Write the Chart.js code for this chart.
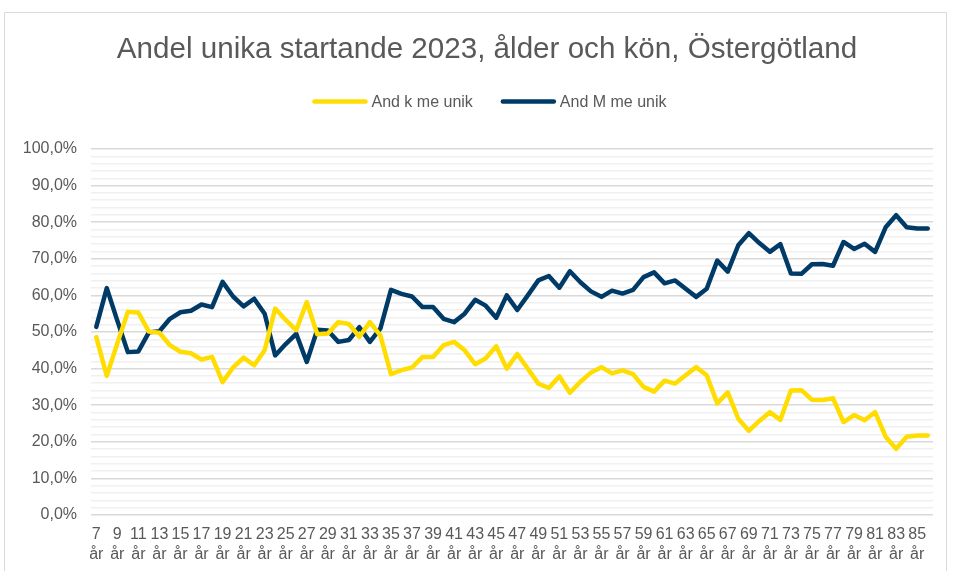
<!DOCTYPE html>
<html>
<head>
<meta charset="utf-8">
<script src="https://cdn.jsdelivr.net/npm/chart.js@4.4.1/dist/chart.umd.min.js"></script>
<style>
  html, body { margin: 0; padding: 0; background: #ffffff; }
  #wrap { position: relative; width: 955px; height: 571px; }
  canvas { display: block; }
</style>
</head>
<body>
<div id="wrap"><canvas id="c" width="955" height="571"></canvas></div>
<script>
const chartTitle = "Andel unika startande 2023, ålder och kön, Östergötland";

const categories = [
  "7 år","8 år","9 år","10 år","11 år","12 år","13 år","14 år","15 år","16 år",
  "17 år","18 år","19 år","20 år","21 år","22 år","23 år","24 år","25 år","26 år",
  "27 år","28 år","29 år","30 år","31 år","32 år","33 år","34 år","35 år","36 år",
  "37 år","38 år","39 år","40 år","41 år","42 år","43 år","44 år","45 år","46 år",
  "47 år","48 år","49 år","50 år","51 år","52 år","53 år","54 år","55 år","56 år",
  "57 år","58 år","59 år","60 år","61 år","62 år","63 år","64 år","65 år","66 år",
  "67 år","68 år","69 år","70 år","71 år","72 år","73 år","74 år","75 år","76 år",
  "77 år","78 år","79 år","80 år","81 år","82 år","83 år","84 år","85 år","86 år"
];

const seriesNames = ["And k me unik", "And M me unik"];

const andK = [
  48.6, 38.0, 46.9, 55.5, 55.3, 50.1, 49.8, 46.4, 44.6, 44.2,
  42.5, 43.2, 36.3, 40.3, 43.0, 40.9, 45.0, 56.4, 53.3, 50.5,
  58.2, 49.4, 49.6, 52.7, 52.2, 48.7, 52.7, 49.0, 38.5, 39.6,
  40.3, 43.2, 43.2, 46.4, 47.3, 45.0, 41.2, 42.8, 46.1, 40.0,
  44.0, 40.0, 35.9, 34.7, 37.9, 33.4, 36.4, 38.9, 40.4, 38.7,
  39.5, 38.5, 35.0, 33.7, 36.7, 35.9, 38.2, 40.4, 38.2, 30.5,
  33.5, 26.3, 23.0, 25.7, 28.1, 26.0, 34.0, 34.1, 31.5, 31.4,
  31.9, 25.4, 27.3, 25.9, 28.1, 21.4, 18.1, 21.4, 21.7, 21.7
];

const andM = [
  51.4, 62.0, 53.1, 44.5, 44.7, 49.9, 50.2, 53.6, 55.4, 55.8,
  57.5, 56.8, 63.7, 59.7, 57.0, 59.1, 55.0, 43.6, 46.7, 49.5,
  41.8, 50.6, 50.4, 47.3, 47.8, 51.3, 47.3, 51.0, 61.5, 60.4,
  59.7, 56.8, 56.8, 53.6, 52.7, 55.0, 58.8, 57.2, 53.9, 60.0,
  56.0, 60.0, 64.1, 65.3, 62.1, 66.6, 63.6, 61.1, 59.6, 61.3,
  60.5, 61.5, 65.0, 66.3, 63.3, 64.1, 61.8, 59.6, 61.8, 69.5,
  66.5, 73.7, 77.0, 74.3, 71.9, 74.0, 66.0, 65.9, 68.5, 68.6,
  68.1, 74.6, 72.7, 74.1, 71.9, 78.6, 81.9, 78.6, 78.3, 78.3
];

const yMin = 0, yMax = 100, yMinorStep = 2, yMajorStep = 10;

const COLOR_K = "#FFDD00";
const COLOR_M = "#003A66";
const TEXT = "#595959";
const FONT = "'Liberation Sans', Arial, sans-serif";

const frameAndHeader = {
  id: 'frameAndHeader',
  beforeDraw(chart) {
    const ctx = chart.ctx;
    ctx.save();
    ctx.fillStyle = '#ffffff';
    ctx.fillRect(0, 0, chart.width, chart.height);
    ctx.strokeStyle = '#d9d9d9';
    ctx.lineWidth = 1;
    ctx.beginPath();
    ctx.moveTo(4.5, chart.height);
    ctx.lineTo(4.5, 12.5);
    ctx.lineTo(946.5, 12.5);
    ctx.lineTo(946.5, chart.height);
    ctx.stroke();
    ctx.restore();
  },
  afterDraw(chart) {
    const ctx = chart.ctx;
    const cx = 487;
    ctx.save();
    // title
    ctx.fillStyle = TEXT;
    ctx.font = "29.6px " + FONT;
    ctx.textAlign = 'center';
    ctx.textBaseline = 'middle';
    ctx.fillText(chartTitle, cx, 49.5);
    // legend
    ctx.font = "16px " + FONT;
    const lineLen = 55, gapText = 4, gapItem = 28;
    const items = chart.data.datasets.map(ds => ({
      text: ds.label, color: ds.borderColor, w: ctx.measureText(ds.label).width
    }));
    let total = 0;
    items.forEach((it, i) => { total += lineLen + gapText + it.w + (i < items.length - 1 ? gapItem : 0); });
    let x = 489.5 - total / 2;
    const y = 101.5;
    ctx.textAlign = 'left';
    items.forEach(it => {
      ctx.strokeStyle = it.color;
      ctx.lineWidth = 4.5;
      ctx.lineCap = 'round';
      ctx.beginPath();
      ctx.moveTo(x + 2, y);
      ctx.lineTo(x + lineLen - 2, y);
      ctx.stroke();
      ctx.fillStyle = TEXT;
      ctx.fillText(it.text, x + lineLen + gapText, y + 1);
      x += lineLen + gapText + it.w + gapItem;
    });
    ctx.restore();
  }
};

new Chart(document.getElementById('c'), {
  type: 'line',
  data: {
    labels: categories,
    datasets: [
      { label: seriesNames[0], data: andK, borderColor: COLOR_K, backgroundColor: COLOR_K,
        borderWidth: 4.5, pointRadius: 0, pointHoverRadius: 0, tension: 0,
        borderJoinStyle: 'round', borderCapStyle: 'round', fill: false },
      { label: seriesNames[1], data: andM, borderColor: COLOR_M, backgroundColor: COLOR_M,
        borderWidth: 4.5, pointRadius: 0, pointHoverRadius: 0, tension: 0,
        borderJoinStyle: 'round', borderCapStyle: 'round', fill: false }
    ]
  },
  options: {
    responsive: false,
    animation: false,
    devicePixelRatio: 1,
    layout: { padding: { top: 149, left: 4, right: 22, bottom: 0 } },
    plugins: {
      legend: { display: false },
      title: { display: false },
      tooltip: { enabled: false }
    },
    scales: {
      x: {
        type: 'category',
        offset: true,
        grid: { display: false, drawTicks: false },
        border: { display: false },
        ticks: {
          autoSkip: false, maxRotation: 0, minRotation: 0, padding: 10,
          color: TEXT, font: { family: FONT, size: 16, lineHeight: 1.25 },
          callback: function (value, index) {
            if (index % 2 !== 0) return '';
            return categories[index].split(' ');
          }
        },
        afterFit(scale) { scale.height = 56; }
      },
      y: {
        min: yMin, max: yMax,
        grid: {
          drawTicks: false,
          lineWidth: 1.5,
          color: (c) => (c.tick && Math.round(c.tick.value) % yMajorStep === 0) ? '#d9d9d9' : '#f0f0f0'
        },
        border: { display: false },
        ticks: {
          stepSize: yMinorStep, autoSkip: false, padding: 14,
          color: TEXT, font: { family: FONT, size: 16 },
          callback: (v) => (Math.round(v) % yMajorStep === 0) ? v.toFixed(1).replace('.', ',') + '%' : ''
        },
        afterFit(scale) { scale.width = 87; }
      }
    }
  },
  plugins: [frameAndHeader]
});
</script>
</body>
</html>
